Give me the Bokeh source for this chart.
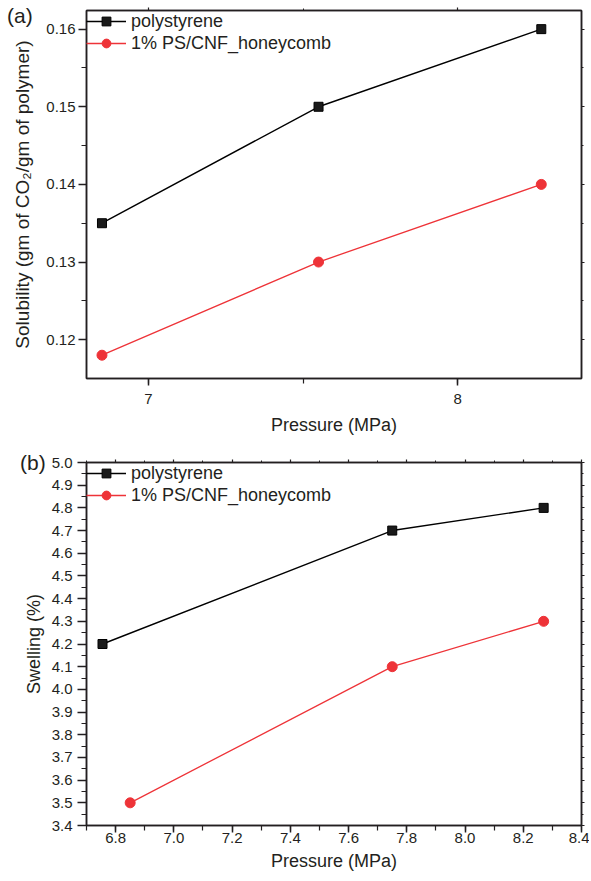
from bokeh.plotting import figure
from bokeh.layouts import column
from bokeh.models import (LinearAxis, SingleIntervalTicker, PrintfTickFormatter,
                          CustomJSTickFormatter, Legend, LegendItem, Range1d, Div)
from bokeh.embed import file_html
from bokeh.resources import INLINE

# ---- data ----
series_names = ["polystyrene", "1% PS/CNF_honeycomb"]
panel_tags = ["(a)", "(b)"]

# (a) solubility
pressure_a_ps = [6.85, 7.55, 8.27]
pressure_a_cnf = [6.85, 7.55, 8.27]
solubility_ps = [0.135, 0.150, 0.160]
solubility_cnf = [0.118, 0.130, 0.140]

# (b) swelling
pressure_b_ps = [6.755, 7.75, 8.27]
pressure_b_cnf = [6.85, 7.75, 8.27]
swelling_ps = [4.2, 4.7, 4.8]
swelling_cnf = [3.5, 4.1, 4.3]

FONT = "Liberation Sans"
AX = "#231f20"
BLACK = "#000000"
RED = "#ee3338"


def style(p, xint, yint, xfmt, yfmt, ytitle, x_lbl_standoff, x_lab_standoff,
          y_lbl_standoff, y_lab_standoff, x_tick_out, y_tick_out, ytitle_size):
    p.xgrid.visible = False
    p.ygrid.visible = False
    p.outline_line_color = AX
    p.outline_line_width = 1.5
    p.outline_line_alpha = 1.0
    p.background_fill_color = "white"
    p.border_fill_color = "white"
    for ax, interval, fmt, tout in ((p.xaxis[0], xint, xfmt, x_tick_out), (p.yaxis[0], yint, yfmt, y_tick_out)):
        ax.ticker = SingleIntervalTicker(interval=interval, num_minor_ticks=2)
        ax.formatter = PrintfTickFormatter(format=fmt)
        ax.axis_line_color = AX
        ax.axis_line_width = 1.5
        ax.major_tick_line_color = AX
        ax.major_tick_line_width = 1.5
        ax.minor_tick_line_color = AX
        ax.minor_tick_line_width = 1.2
        ax.major_tick_out = tout
        ax.major_tick_in = 0
        ax.minor_tick_out = 5
        ax.minor_tick_in = 0
        ax.major_label_text_font = FONT
        ax.major_label_text_font_size = "15px"
        ax.major_label_text_color = AX
        ax.axis_label_text_font = FONT
        ax.axis_label_text_font_size = "18px"
        ax.axis_label_text_font_style = "normal"
        ax.axis_label_text_color = AX
    p.xaxis[0].axis_label = "Pressure (MPa)"
    p.xaxis[0].major_label_standoff = x_lbl_standoff
    p.xaxis[0].axis_label_standoff = x_lab_standoff
    p.yaxis[0].axis_label = ytitle
    p.yaxis[0].axis_label_text_font_size = ytitle_size
    p.yaxis[0].major_label_standoff = y_lbl_standoff
    p.yaxis[0].axis_label_standoff = y_lab_standoff
    # mirror axes (ticks only)
    for loc, interval in (("above", xint), ("right", yint)):
        m = LinearAxis(ticker=SingleIntervalTicker(interval=interval, num_minor_ticks=2),
                       formatter=CustomJSTickFormatter(code="return ''"),
                       major_label_text_font_size="0px", major_label_standoff=0,
                       axis_line_color=AX, axis_line_width=1.5,
                       major_tick_line_color=AX, major_tick_line_width=1.2,
                       minor_tick_line_color=AX, minor_tick_line_width=1.0,
                       major_tick_out=3, major_tick_in=0, minor_tick_out=2, minor_tick_in=0)
        p.add_layout(m, loc)


def add_series(p, xs_ps, ys_ps, xs_cnf, ys_cnf):
    l1 = p.line(xs_ps, ys_ps, line_color=BLACK, line_width=1.4)
    s1 = p.scatter(xs_ps, ys_ps, marker="square", size=9, fill_color="#1a1a1a", line_color=BLACK, line_width=1)
    l2 = p.line(xs_cnf, ys_cnf, line_color=RED, line_width=1.3)
    s2 = p.scatter(xs_cnf, ys_cnf, marker="circle", size=10, fill_color=RED, line_color=RED, line_width=1)
    legend = Legend(items=[LegendItem(label=series_names[0], renderers=[l1, s1]),
                           LegendItem(label=series_names[1], renderers=[l2, s2])],
                    location="top_left", border_line_color=None, background_fill_alpha=0,
                    label_text_font=FONT, label_text_font_size="18px", label_text_color=AX,
                    glyph_width=40, glyph_height=22, label_height=20, label_standoff=5,
                    spacing=0, padding=4, margin=0)
    p.add_layout(legend)


def tag_div(text, margin):
    return Div(text=text, width=40, height=26, margin=margin,
               styles={"font-family": FONT, "font-size": "21px", "color": AX,
                       "line-height": "26px", "position": "relative", "z-index": "10",
                       "white-space": "nowrap"})


# ---- panel (a) ----
p1 = figure(width=589, height=440, output_backend="svg", toolbar_location=None,
            x_range=Range1d(6.8, 8.4), y_range=Range1d(0.115, 0.1624),
            min_border_left=83, min_border_right=6, min_border_top=10, min_border_bottom=62)
style(p1, 1, 0.01, "%.0f", "%.2f", "Solubility (gm of CO\u2082/gm of polymer)",
      8, 8, 3, 10, 7, 8, "19px")
add_series(p1, pressure_a_ps, solubility_ps, pressure_a_cnf, solubility_cnf)

# ---- panel (b) ----
p2 = figure(width=589, height=440, output_backend="svg", toolbar_location=None,
            x_range=Range1d(6.7, 8.4), y_range=Range1d(3.4, 5.0),
            min_border_left=86, min_border_right=8, min_border_top=22, min_border_bottom=55)
style(p2, 0.2, 0.1, "%.1f", "%.1f", "Swelling (%)", 0, 5, 5, 5, 7, 9, "18px")
add_series(p2, pressure_b_ps, swelling_ps, pressure_b_cnf, swelling_cnf)

# panel tags overlaid on the figures' corners
tag_a = tag_div(panel_tags[0], (-437, 0, 411, 7))
tag_b = tag_div(panel_tags[1], (-430, 0, 0, 20))

layout = column(p1, tag_a, p2, tag_b, spacing=0)
open("out.html", "w").write(file_html(layout, INLINE))
